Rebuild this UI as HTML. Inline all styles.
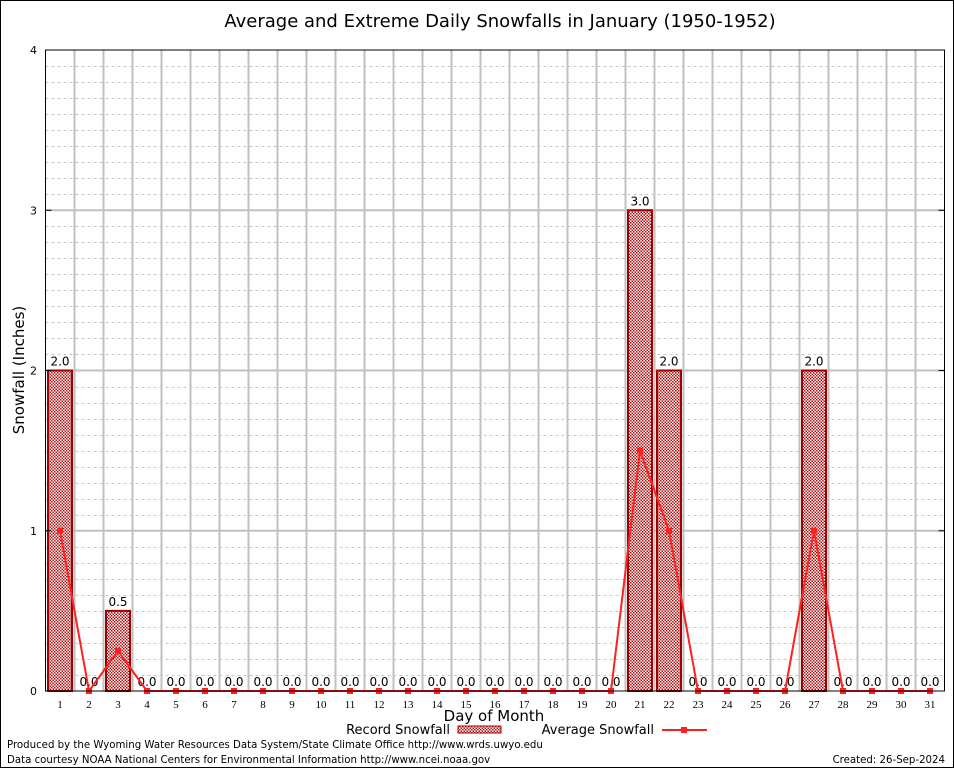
<!DOCTYPE html>
<html><head><meta charset="utf-8"><style>
html,body{margin:0;padding:0;background:#fff}
svg{display:block;font-family:"DejaVu Sans","Liberation Sans",sans-serif}
</style></head><body>
<svg id="chart" width="954" height="768">
<defs>
<pattern id="chk" width="3" height="3" patternUnits="userSpaceOnUse">
<rect width="3" height="3" fill="#fff"/>
<rect width="1.5" height="1.5" fill="#b01010"/>
<rect x="1.5" y="1.5" width="1.5" height="1.5" fill="#b01010"/>
</pattern>
</defs>
<rect x="0.5" y="0.5" width="953" height="767" fill="#fff" stroke="#000"/>
<text x="500" y="27" font-size="18" text-anchor="middle">Average and Extreme Daily Snowfalls in January (1950-1952)</text>
<g id="grid"></g>
<g id="bars"></g>
<g id="line"></g>
<rect x="45.5" y="50" width="899" height="641" fill="none" stroke="#000"/>
<g id="axes"></g>
<text x="24" y="370" font-size="15" text-anchor="middle" transform="rotate(-90 24 370)">Snowfall (Inches)</text>
<text x="494" y="721" font-size="15" text-anchor="middle">Day of Month</text>
<g>
<text x="450" y="734" font-size="13" text-anchor="end">Record Snowfall</text>
<rect x="458" y="726" width="43" height="7" fill="url(#chk)" stroke="#a00000"/>
<text x="654" y="734" font-size="13" text-anchor="end">Average Snowfall</text>
<line x1="662" y1="730" x2="707" y2="730" stroke="#ff2020" stroke-width="2"/>
<rect x="681" y="727" width="6" height="6" fill="#ff2020"/>
</g>
<text x="7" y="748" font-size="10.2">Produced by the Wyoming Water Resources Data System/State Climate Office http://www.wrds.uwyo.edu</text>
<text x="7" y="763" font-size="10.2">Data courtesy NOAA National Centers for Environmental Information http://www.ncei.noaa.gov</text>
<text x="945" y="763" font-size="10.2" text-anchor="end">Created:  26-Sep-2024</text>
</svg>
<script>
const days=[1,2,3,4,5,6,7,8,9,10,11,12,13,14,15,16,17,18,19,20,21,22,23,24,25,26,27,28,29,30,31];
const recordValues=[2,0,0.5,0,0,0,0,0,0,0,0,0,0,0,0,0,0,0,0,0,3,2,0,0,0,0,2,0,0,0,0];
const averageValues=[1,0,0.25,0,0,0,0,0,0,0,0,0,0,0,0,0,0,0,0,0,1.5,1,0,0,0,0,1,0,0,0,0];
const yTicks=[0,1,2,3,4];
const NS='http://www.w3.org/2000/svg';
const L=45.5,R=944.5,T=50,B=691,yMax=4;
const cw=(R-L)/days.length;
const xC=i=>L+cw*(i+0.5);
const y=v=>B-(v/yMax)*(B-T);
function mk(tag,attrs,parent){const e=document.createElementNS(NS,tag);for(const k in attrs)e.setAttribute(k,attrs[k]);parent.appendChild(e);return e;}
const grid=document.getElementById('grid'),bars=document.getElementById('bars'),line=document.getElementById('line'),axes=document.getElementById('axes');
for(let k=1;k<yMax*10;k++){if(k%10===0)continue;const yy=Math.round(y(k/10))+0.5;
const g=mk('line',{x1:L,x2:R,y1:yy,y2:yy,stroke:'#c8c8c8','stroke-dasharray':'3,3'},grid);
}
for(let i=1;i<days.length;i++){const xx=L+cw*i;
const g=mk('line',{x1:xx,x2:xx,y1:T,y2:B,stroke:'#c0c0c0','stroke-width':2},grid);
}
yTicks.forEach(t=>{const yy=y(t);
if(t>0&&t<yMax){const g=mk('line',{x1:L,x2:R,y1:yy,y2:yy,stroke:'#c0c0c0','stroke-width':2},grid);
}
const lb=mk('text',{x:37,y:yy+4,'font-size':11,'text-anchor':'end'},axes);lb.textContent=t;

const tk=mk('line',{x1:L,x2:L+6,y1:yy,y2:yy,stroke:'#000'},axes);

const tk2=mk('line',{x1:R-6,x2:R,y1:yy,y2:yy,stroke:'#000'},axes);
});
days.forEach((d,i)=>{const cx=xC(i),v=recordValues[i];
if(v>0){const b=mk('rect',{x:cx-12,y:y(v),width:24,height:B-y(v),fill:'url(#chk)',stroke:'#a00000','stroke-width':2},bars);
}
const vl=mk('text',{x:cx,y:y(v)-5,'font-size':12,'text-anchor':'middle'},bars);vl.textContent=v.toFixed(1);

const xl=mk('text',{x:cx,y:B+17,'font-size':11,'text-anchor':'middle','font-family':'Liberation Serif,serif'},axes);xl.textContent=d;
});
const pts=averageValues.map((v,i)=>xC(i)+','+y(v)).join(' ');
const pl=mk('polyline',{points:pts,fill:'none',stroke:'#ff2020','stroke-width':2},line);

averageValues.forEach((v,i)=>{const m=mk('rect',{x:xC(i)-3,y:y(v)-3,width:6,height:6,fill:'#ff2020'},line);
});
</script>
</body></html>
